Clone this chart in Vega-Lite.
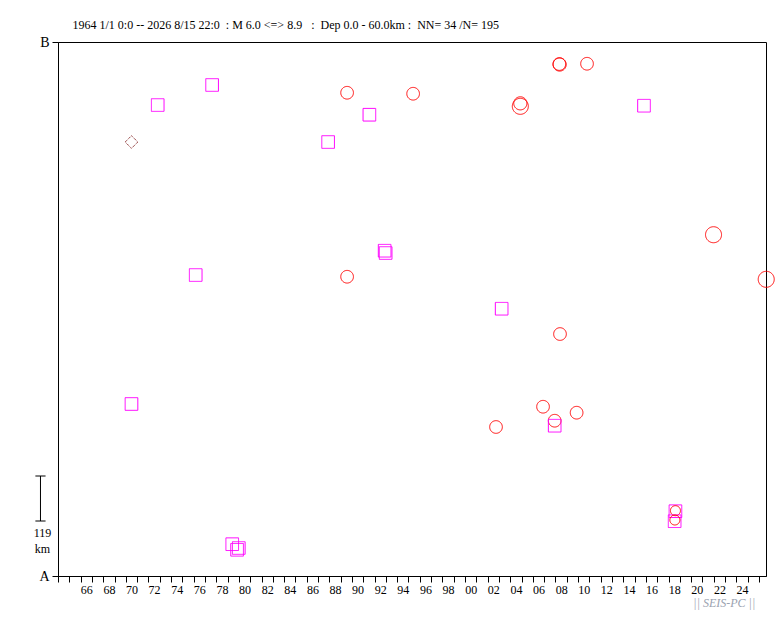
{
  "$schema": "https://vega.github.io/schema/vega-lite/v6.json",
  "width": 708,
  "height": 534,
  "autosize": {"type": "none"},
  "padding": {"left": 58, "top": 42, "right": 17, "bottom": 42},
  "background": "white",
  "title": {
    "text": "1964 1/1 0:0 -- 2026 8/15 22:0 \u00a0: M 6.0 <=> 8.9 \u00a0\u00a0: \u00a0Dep 0.0 - 60.0km : \u00a0NN= 34 /N= 195",
    "anchor": "start",
    "frame": "group",
    "dx": 14.5,
    "offset": 3,
    "font": "Liberation Serif",
    "fontSize": 12,
    "fontWeight": "normal",
    "color": "black"
  },
  "config": {
    "view": {"stroke": "black", "strokeWidth": 1},
    "axis": {"grid": false, "domainColor": "black", "tickColor": "black", "labelColor": "black", "labelFont": "Liberation Serif"}
  },
  "resolve": {"axis": {"x": "independent", "y": "independent"}},
  "layer": [
    {
      "data": {"values": [
        {"year": 1977.63, "km": 1298.3, "cls": "mid", "mag": 6.5},
        {"year": 1972.82, "km": 1245.3, "cls": "mid", "mag": 6.5},
        {"year": 1970.50, "km": 1147.5, "cls": "deep", "mag": 6.5},
        {"year": 1976.18, "km": 795.8, "cls": "mid", "mag": 6.5},
        {"year": 1970.50, "km": 454.8, "cls": "mid", "mag": 6.5},
        {"year": 1979.41, "km": 84.1, "cls": "mid", "mag": 6.5},
        {"year": 1979.99, "km": 74.0, "cls": "mid", "mag": 6.5},
        {"year": 1979.84, "km": 69.3, "cls": "mid", "mag": 6.5},
        {"year": 1989.57, "km": 1277.8, "cls": "shallow", "mag": 6.5},
        {"year": 1995.41, "km": 1275.2, "cls": "shallow", "mag": 6.5},
        {"year": 1991.54, "km": 1219.7, "cls": "mid", "mag": 6.5},
        {"year": 1987.89, "km": 1147.5, "cls": "mid", "mag": 6.5},
        {"year": 1992.89, "km": 860.1, "cls": "mid", "mag": 6.5},
        {"year": 1992.98, "km": 854.0, "cls": "mid", "mag": 6.5},
        {"year": 1989.57, "km": 791.3, "cls": "shallow", "mag": 6.5},
        {"year": 2008.34, "km": 1353.7, "cls": "shallow", "mag": 6.5},
        {"year": 2008.37, "km": 1352.4, "cls": "shallow", "mag": 6.6},
        {"year": 2010.79, "km": 1354.5, "cls": "shallow", "mag": 6.5},
        {"year": 2004.89, "km": 1249.8, "cls": "shallow", "mag": 6.6},
        {"year": 2004.89, "km": 1241.9, "cls": "shallow", "mag": 7.3},
        {"year": 2015.83, "km": 1243.5, "cls": "mid", "mag": 6.5},
        {"year": 2021.98, "km": 902.4, "cls": "shallow", "mag": 7.3},
        {"year": 2026.64, "km": 784.5, "cls": "shallow", "mag": 7.3},
        {"year": 2003.24, "km": 706.7, "cls": "mid", "mag": 6.5},
        {"year": 2008.40, "km": 639.8, "cls": "shallow", "mag": 6.5},
        {"year": 2006.90, "km": 447.6, "cls": "shallow", "mag": 6.5},
        {"year": 2009.87, "km": 431.8, "cls": "shallow", "mag": 6.5},
        {"year": 2007.93, "km": 410.6, "cls": "shallow", "mag": 6.5},
        {"year": 2007.93, "km": 397.4, "cls": "mid", "mag": 6.5},
        {"year": 2002.74, "km": 394.0, "cls": "shallow", "mag": 6.5},
        {"year": 2018.61, "km": 171.3, "cls": "mid", "mag": 6.5},
        {"year": 2018.61, "km": 172.7, "cls": "shallow", "mag": 6.0},
        {"year": 2018.54, "km": 144.9, "cls": "mid", "mag": 6.5},
        {"year": 2018.56, "km": 148.1, "cls": "shallow", "mag": 6.0}
      ]},
      "mark": {"type": "point", "filled": false, "strokeWidth": 1, "opacity": 1},
      "encoding": {
        "x": {
          "field": "year", "type": "quantitative",
          "scale": {"domain": [1964, 2026.62], "nice": false, "zero": false},
          "axis": {
            "title": null,
            "orient": "bottom",
            "values": [1964,1965,1966,1967,1968,1969,1970,1971,1972,1973,1974,1975,1976,1977,1978,1979,1980,1981,1982,1983,1984,1985,1986,1987,1988,1989,1990,1991,1992,1993,1994,1995,1996,1997,1998,1999,2000,2001,2002,2003,2004,2005,2006,2007,2008,2009,2010,2011,2012,2013,2014,2015,2016,2017,2018,2019,2020,2021,2022,2023,2024,2025,2026],
            "labels": false,
            "tickSize": 6
          }
        },
        "y": {
          "field": "km", "type": "quantitative",
          "scale": {"domain": [0, 1412], "nice": false, "zero": false},
          "axis": {
            "title": null,
            "orient": "left",
            "values": [0, 1412],
            "labelExpr": "datum.value == 0 ? 'A' : 'B'",
            "labelFontSize": 14,
            "labelPadding": 3,
            "labelFlush": false,
            "labelOverlap": false,
            "tickSize": 6
          }
        },
        "shape": {"field": "cls", "type": "nominal", "scale": {"domain": ["shallow", "mid", "deep"], "range": ["circle", "square", "diamond"]}, "legend": null},
        "stroke": {"field": "cls", "type": "nominal", "scale": {"domain": ["shallow", "mid", "deep"], "range": ["#FF0000", "#FF00FF", "#700000"]}, "legend": null},
        "strokeDash": {"field": "cls", "type": "nominal", "scale": {"domain": ["shallow", "mid", "deep"], "range": [[1, 0], [1, 0], [1, 1]]}, "legend": null},
        "size": {"field": "mag", "type": "quantitative", "scale": {"domain": [6.0, 7.3], "range": [100, 256], "zero": false}, "legend": null}
      }
    },
    {
      "data": {"values": [{"lo": 145.4, "hi": 264.4, "label": "119", "unit": "km", "labKm": 113.7, "unitKm": 71.4}]},
      "layer": [
        {
          "mark": {"type": "rule", "color": "black", "strokeWidth": 1},
          "encoding": {
            "x": {"datum": 1962.45, "type": "quantitative", "axis": null},
            "y": {"field": "lo", "type": "quantitative", "axis": null},
            "y2": {"field": "hi"}
          }
        },
        {
          "mark": {"type": "rule", "color": "black", "strokeWidth": 1},
          "encoding": {
            "x": {"datum": 1962.0, "type": "quantitative", "axis": null},
            "x2": {"datum": 1962.9},
            "y": {"field": "lo", "type": "quantitative", "axis": null}
          }
        },
        {
          "mark": {"type": "rule", "color": "black", "strokeWidth": 1},
          "encoding": {
            "x": {"datum": 1962.0, "type": "quantitative", "axis": null},
            "x2": {"datum": 1962.9},
            "y": {"field": "hi", "type": "quantitative", "axis": null}
          }
        },
        {
          "mark": {"type": "text", "font": "Liberation Serif", "fontSize": 12, "color": "black", "align": "center", "baseline": "middle"},
          "encoding": {
            "x": {"datum": 1962.63, "type": "quantitative", "axis": null},
            "y": {"field": "labKm", "type": "quantitative", "axis": null},
            "text": {"field": "label"}
          }
        },
        {
          "mark": {"type": "text", "font": "Liberation Serif", "fontSize": 12, "color": "black", "align": "center", "baseline": "middle"},
          "encoding": {
            "x": {"datum": 1962.63, "type": "quantitative", "axis": null},
            "y": {"field": "unitKm", "type": "quantitative", "axis": null},
            "text": {"field": "unit"}
          }
        }
      ]
    },
    {
      "data": {"values": [{"label": "|| SEIS-PC ||", "km": -72}]},
      "mark": {"type": "text", "font": "Liberation Serif", "fontSize": 12, "fontStyle": "italic", "color": "#9AA2B0", "align": "center", "baseline": "middle"},
      "encoding": {
        "x": {
          "datum": 2022.93, "type": "quantitative",
          "axis": {
            "title": null,
            "orient": "bottom",
            "domain": false,
            "values": [1966.5,1968.5,1970.5,1972.5,1974.5,1976.5,1978.5,1980.5,1982.5,1984.5,1986.5,1988.5,1990.5,1992.5,1994.5,1996.5,1998.5,2000.5,2002.5,2004.5,2006.5,2008.5,2010.5,2012.5,2014.5,2016.5,2018.5,2020.5,2022.5,2024.5],
            "labelExpr": "substring(toString(floor(datum.value)), 2, 4)",
            "labelFontSize": 12,
            "labelPadding": 2,
            "labelOverlap": false,
            "labelFlush": false,
            "tickSize": 6,
            "tickOpacity": 0
          }
        },
        "y": {"field": "km", "type": "quantitative", "axis": null},
        "text": {"field": "label"}
      }
    }
  ]
}
